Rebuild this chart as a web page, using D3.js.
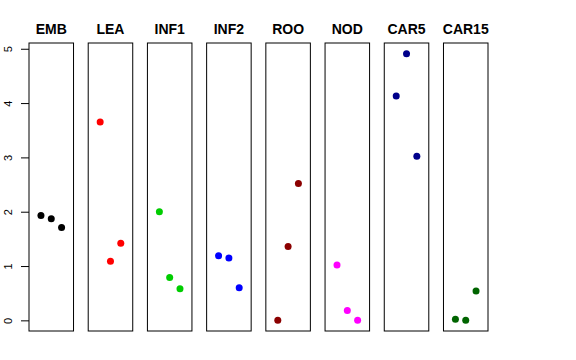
<!DOCTYPE html>
<html>
<head>
<meta charset="utf-8">
<script src="https://cdn.jsdelivr.net/npm/d3@7"></script>
<style>
  html, body { margin: 0; padding: 0; background: #fff; }
  svg { display: block; font-family: "Liberation Sans", Arial, Helvetica, sans-serif; }
</style>
</head>
<body>
<svg id="chart" width="576" height="360"></svg>
<script>
// ---- data ----
const categories = ["EMB", "LEA", "INF1", "INF2", "ROO", "NOD", "CAR5", "CAR15"];
const colors = ["#000000", "#FF0000", "#00CD00", "#0000FF", "#8B0000", "#FF00FF", "#00008B", "#006400"];
const rep1 = [1.93, 3.65, 2.00, 1.19, 0.00, 1.02, 4.13, 0.02];
const rep2 = [1.87, 1.09, 0.79, 1.15, 1.36, 0.18, 4.91, 0.00];
const rep3 = [1.71, 1.42, 0.58, 0.60, 2.52, 0.00, 3.02, 0.54];
const yTicks = [0, 1, 2, 3, 4, 5];

const svg = d3.select("#chart");

const x = d3.scaleBand()
  .domain(categories)
  .range([29, 488])
  .paddingInner(0.248)
  .paddingOuter(0);

const xin = d3.scaleLinear().domain([-0.16, 4.16]).range([0, x.bandwidth()]);
const y = d3.scaleLinear().domain([-0.196, 5.106]).range([331, 43]);

const reps = [rep1, rep2, rep3];
const points = [];
categories.forEach((c, i) => {
  reps.forEach((r, j) => points.push({ cat: c, rep: j + 1, value: r[i], color: colors[i] }));
});

// panels
const panel = svg.selectAll("g.panel")
  .data(categories)
  .join("g")
  .attr("class", "panel")
  .attr("transform", d => `translate(${x(d)},0)`);

panel.append("rect")
  .attr("x", 0)
  .attr("y", y.range()[1])
  .attr("width", x.bandwidth())
  .attr("height", y.range()[0] - y.range()[1])
  .attr("fill", "none")
  .attr("stroke", "#000")
  .attr("stroke-width", 1);

panel.append("text")
  .attr("x", x.bandwidth() / 2)
  .attr("y", 34)
  .attr("text-anchor", "middle")
  .attr("font-weight", "bold")
  .attr("font-size", 14)
  .text(d => d);

// points
svg.append("g")
  .selectAll("circle")
  .data(points)
  .join("circle")
  .attr("cx", d => x(d.cat) + xin(d.rep))
  .attr("cy", d => y(d.value))
  .attr("r", 3.5)
  .attr("fill", d => d.color);

// y axis
const axis = svg.append("g")
  .attr("transform", `translate(${x(categories[0])},0)`)
  .call(d3.axisLeft(y).tickValues(yTicks).tickSize(8).tickFormat(d3.format("d")));
axis.select(".domain").remove();
axis.selectAll(".tick line").attr("stroke", "#000");
axis.selectAll(".tick text")
  .attr("transform", "rotate(-90)")
  .attr("x", 0)
  .attr("y", -21)
  .attr("dy", "0.35em")
  .attr("text-anchor", "middle")
  .attr("font-size", 11)
  .attr("font-family", "Liberation Sans, Arial, sans-serif")
  .attr("fill", "#000");
</script>
</body>
</html>
